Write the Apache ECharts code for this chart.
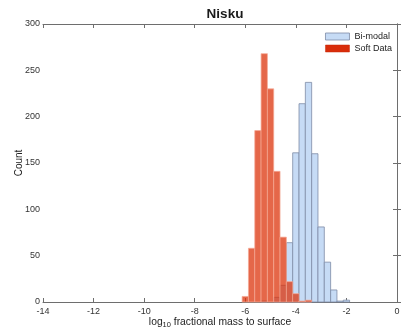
<!DOCTYPE html>
<html>
<head>
<meta charset="utf-8">
<script src="https://cdn.jsdelivr.net/npm/echarts@6/dist/echarts.min.js"></script>
<style>
  html, body { margin: 0; padding: 0; background: #fff; }
  #chart { width: 402px; height: 330px; }
</style>
</head>
<body>
<div id="chart"></div>
<script>
// histogram bins (bin centres, width 0.25 in log10 units)
const binWidth = 0.25;
const blueCenters = [-5.25, -4.75, -4.5, -4.25, -4, -3.75, -3.5, -3.25, -3, -2.75, -2.5, -2.25, -2];
const blueCounts = [1, 5, 18, 64, 161, 214, 237, 160, 81, 43, 13, 1, 2];
const redCenters = [-6, -5.75, -5.5, -5.25, -5, -4.75, -4.5, -4.25, -4, -3.75, -3.5];
const redCounts = [6, 58, 185, 268, 230, 141, 70, 22, 9, 1, 2];
const xTicks = [-14, -12, -10, -8, -6, -4, -2, 0];
const yTicks = [0, 50, 100, 150, 200, 250, 300];

const chart = echarts.init(document.getElementById('chart'));

const histItem = (fill, stroke) => (params, api) => {
  const c = api.value(0);
  const n = api.value(1);
  const p0 = api.coord([c - binWidth / 2, n]);
  const p1 = api.coord([c + binWidth / 2, 0]);
  return {
    type: 'rect',
    shape: { x: p0[0], y: p0[1], width: p1[0] - p0[0], height: p1[1] - p0[1] },
    style: { fill: fill, stroke: stroke, lineWidth: 0.8 }
  };
};

const font = 'Arial, Liberation Sans';
const axisCommon = {
  min: xTicks[0],
  max: xTicks[xTicks.length - 1],
  interval: 2,
  axisLine: { show: true, onZero: false, lineStyle: { color: '#6e6e6e', width: 1 } },
  axisTick: { show: true, inside: true, length: 4, lineStyle: { color: '#6e6e6e' } },
  splitLine: { show: false }
};

chart.setOption({
  animation: false,
  title: {
    text: 'Nisku',
    left: 220, top: 2, textAlign: 'center',
    textStyle: { fontFamily: font, fontSize: 13.5, fontWeight: 'bold', color: '#1a1a1a' }
  },
  grid: { left: 43, right: 5, top: 24, bottom: 28, outerBoundsMode: 'none', containLabel: false },
  legend: {
    orient: 'vertical',
    right: 5, top: 27,
    itemWidth: 24, itemHeight: 7, itemGap: 3,
    icon: 'rect',
    textStyle: { fontFamily: font, fontSize: 9, color: '#222' },
    data: [
      { name: 'Bi-modal', itemStyle: { color: '#c6dbf5', borderColor: '#7d8ca6', borderWidth: 0.8 } },
      { name: 'Soft Data', itemStyle: { color: '#d92d0a', borderColor: '#c42a0a', borderWidth: 0.5 } }
    ]
  },
  xAxis: [
    Object.assign({}, axisCommon, {
      type: 'value', position: 'bottom',
      name: 'log{sub|10} fractional mass to surface',
      nameLocation: 'middle', nameGap: 14, nameMoveOverlap: false,
      nameTextStyle: {
        fontFamily: font, fontSize: 10.3, color: '#222',
        rich: { sub: { fontSize: 7.5, verticalAlign: 'bottom', padding: [5, 0, 0, 0], fontFamily: font, color: '#222' } }
      },
      axisLabel: { fontFamily: font, fontSize: 9, color: '#333', margin: 5 }
    }),
    Object.assign({}, axisCommon, {
      type: 'value', position: 'top',
      axisLabel: { show: false }
    })
  ],
  yAxis: [
    {
      type: 'value', position: 'left',
      min: yTicks[0], max: yTicks[yTicks.length - 1], interval: 50,
      name: 'Count', nameLocation: 'middle', nameGap: 19, nameMoveOverlap: false,
      nameTextStyle: { fontFamily: font, fontSize: 10, color: '#222' },
      axisLine: { show: true, lineStyle: { color: '#6e6e6e', width: 1 } },
      axisTick: { show: true, inside: true, length: 4, lineStyle: { color: '#6e6e6e' } },
      axisLabel: { fontFamily: font, fontSize: 9, color: '#333', margin: 3 },
      splitLine: { show: false }
    },
    {
      type: 'value', position: 'right',
      min: yTicks[0], max: yTicks[yTicks.length - 1], interval: 50,
      axisLine: { show: true, lineStyle: { color: '#6e6e6e', width: 1 } },
      axisTick: { show: true, inside: true, length: 4, lineStyle: { color: '#6e6e6e' } },
      axisLabel: { show: false },
      splitLine: { show: false }
    }
  ],
  series: [
    {
      name: 'Bi-modal', type: 'custom',
      xAxisIndex: 0, yAxisIndex: 0,
      itemStyle: { color: '#c6dbf5' },
      renderItem: histItem('#c6dbf5', '#7d8ca6'),
      data: blueCenters.map((c, i) => [c, blueCounts[i]])
    },
    {
      name: 'Soft Data', type: 'custom',
      xAxisIndex: 0, yAxisIndex: 0,
      itemStyle: { color: '#d92d0a' },
      renderItem: histItem('rgba(220,50,10,0.74)', 'rgba(245,170,150,0.9)'),
      data: redCenters.map((c, i) => [c, redCounts[i]])
    }
  ]
});
</script>
</body>
</html>
